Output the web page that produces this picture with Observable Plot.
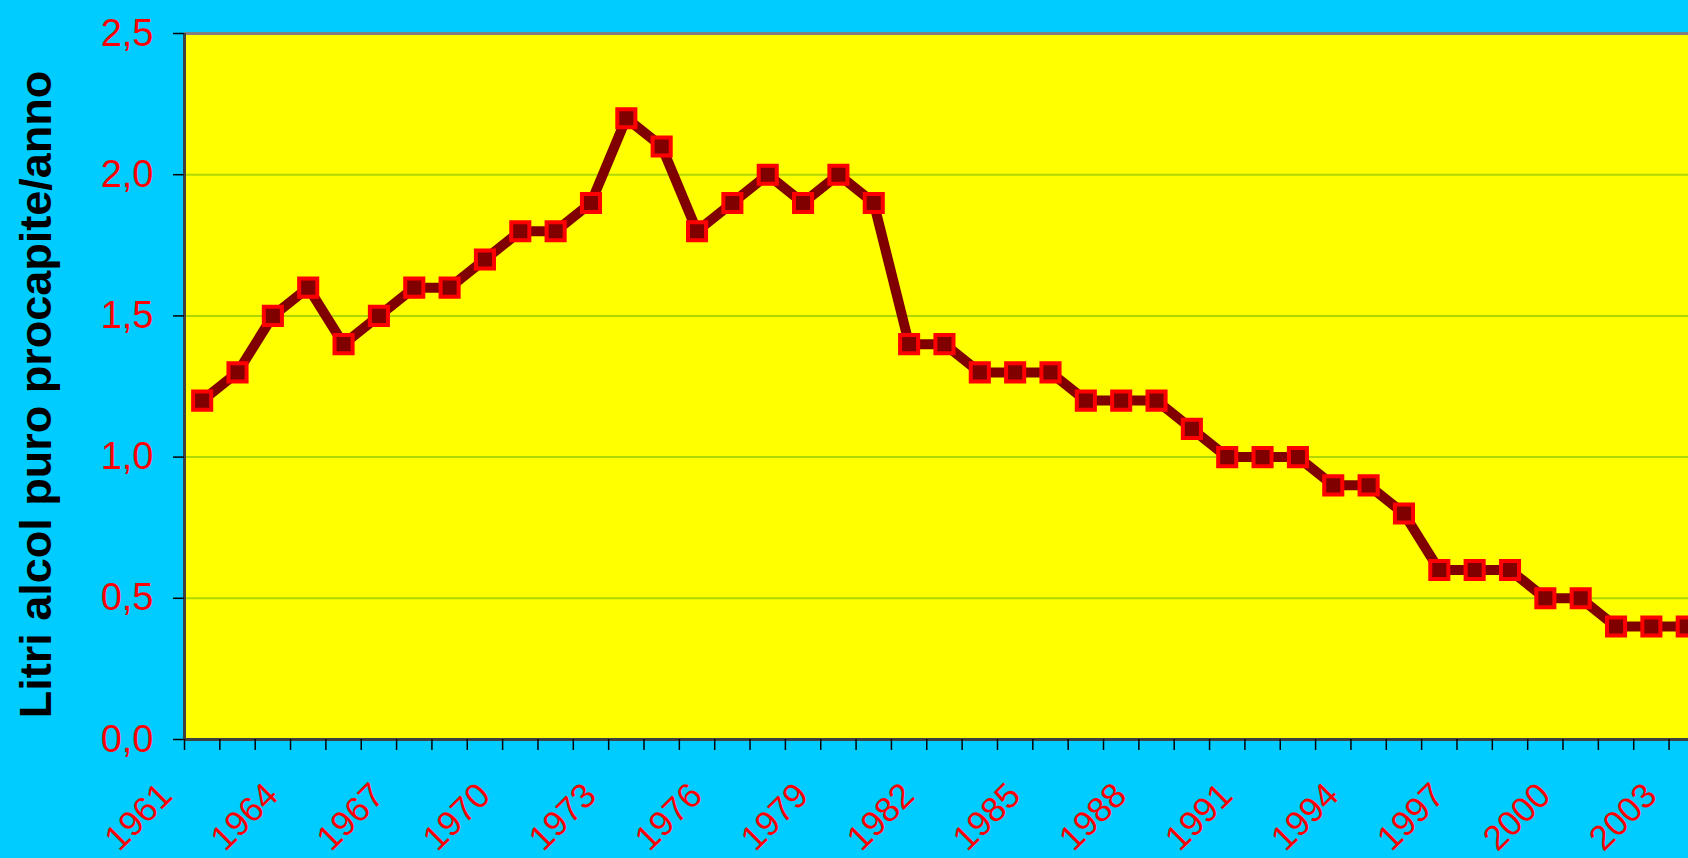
<!DOCTYPE html>
<html>
<head>
<meta charset="utf-8">
<script src="https://cdn.jsdelivr.net/npm/d3@7"></script>
<script src="https://cdn.jsdelivr.net/npm/@observablehq/plot@0.6"></script>
<style>
  html, body { margin: 0; padding: 0; background: #00ccff; overflow: hidden; }
  #chart svg { display: block; }
</style>
</head>
<body>
<div id="chart"></div>
<script>
const years = [1961, 1962, 1963, 1964, 1965, 1966, 1967, 1968, 1969, 1970,
  1971, 1972, 1973, 1974, 1975, 1976, 1977, 1978, 1979, 1980,
  1981, 1982, 1983, 1984, 1985, 1986, 1987, 1988, 1989, 1990,
  1991, 1992, 1993, 1994, 1995, 1996, 1997, 1998, 1999, 2000,
  2001, 2002, 2003];
const values = [1.2, 1.3, 1.5, 1.6, 1.4, 1.5, 1.6, 1.6, 1.7, 1.8,
  1.8, 1.9, 2.2, 2.1, 1.8, 1.9, 2.0, 1.9, 2.0, 1.9,
  1.4, 1.4, 1.3, 1.3, 1.3, 1.2, 1.2, 1.2, 1.1, 1.0,
  1.0, 1.0, 0.9, 0.9, 0.8, 0.6, 0.6, 0.6, 0.5, 0.5,
  0.4, 0.4, 0.4];
const xLabelYears = [1961, 1964, 1967, 1970, 1973, 1976, 1979, 1982, 1985, 1988, 1991, 1994, 1997, 2000, 2003];
const yTicks = [0, 0.5, 1.0, 1.5, 2.0, 2.5];
const yTickLabels = ["0,0", "0,5", "1,0", "1,5", "2,0", "2,5"];
const yTitle = "Litri alcol puro procapite/anno";

const data = years.map((year, i) => ({year, value: values[i]}));
const boundaries = years.map(y => y - 0.5);
const gridLines = yTicks.filter(v => v > 0 && v < 2.5);
const yLabelOf = v => yTickLabels[yTicks.indexOf(v)];

const font = "'Liberation Sans', Arial, sans-serif";

const chart = Plot.plot({
  width: 1688,
  height: 858,
  marginLeft: 184,
  marginRight: 0,
  marginTop: 33,
  marginBottom: 119,
  style: {background: "#00ccff", fontFamily: font, overflow: "hidden"},
  x: {type: "linear", domain: [1960.5, 2003.05], label: null},
  y: {domain: [0, 2.5], label: null},
  marks: [
    Plot.frame({fill: "#ffff00", stroke: "none"}),
    Plot.ruleY(gridLines, {stroke: "#b0d800", strokeWidth: 2}),
    Plot.ruleY([2.5], {stroke: "#808080", strokeWidth: 3}),
    Plot.ruleX([1960.5], {stroke: "#404040", strokeWidth: 3}),
    Plot.ruleY([0], {stroke: "#404040", strokeWidth: 3}),
    Plot.axisX(boundaries, {
      tickSize: 11, tickPadding: 0, stroke: "#000", strokeWidth: 1.5,
      tickFormat: () => "", label: null
    }),
    Plot.axisX(xLabelYears, {
      tickSize: 0, tickPadding: 0, tickRotate: -45,
      dx: -36, dy: 50, fontSize: 35, fill: "#ff0000", stroke: "none",
      tickFormat: d => String(d), fontFamily: font, label: null
    }),
    Plot.axisY(yTicks, {
      tickSize: 11, tickPadding: 20, fontSize: 38, fill: "#ff0000",
      stroke: "#000", strokeWidth: 1.5,
      tickFormat: yLabelOf, fontFamily: font, label: null
    }),
    Plot.line(data, {x: "year", y: "value", stroke: "#800000", strokeWidth: 10, strokeLinejoin: "miter"}),
    Plot.dot(data, {x: "year", y: "value", symbol: "square", r: 10.2, fill: "#800000", stroke: "#ff0000", strokeWidth: 4}),
    Plot.text([yTitle], {
      frameAnchor: "left", rotate: -90, dx: -148, dy: 8,
      textAnchor: "middle", lineAnchor: "middle",
      fontSize: 45, fontWeight: "bold", fill: "#000", fontFamily: font
    })
  ]
});
document.getElementById("chart").appendChild(chart);
</script>
</body>
</html>
